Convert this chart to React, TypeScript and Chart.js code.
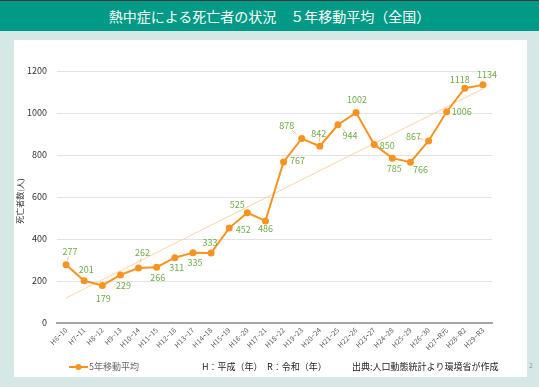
import React, { useEffect, useRef } from "react";
import { Chart, registerables } from "chart.js";

Chart.register(...registerables);

const categories = [
  "H6~10", "H7~11", "H8~12", "H9~13", "H10~14", "H11~15", "H12~16", "H13~17",
  "H14~18", "H15~19", "H16~20", "H17~21", "H18~22", "H19~23", "H20~24", "H21~25",
  "H22~26", "H23~27", "H24~28", "H25~29", "H26~30", "H27~R元", "H28~R2", "H29~R3",
];
const movingAverage = [
  277, 201, 179, 229, 262, 266, 311, 335, 333, 452, 525, 486,
  767, 878, 842, 944, 1002, 850, 785, 766, 867, 1006, 1118, 1134,
];
// trend line end points
const trendStart = 119;
const trendEnd = 1115;
const yTicks = [0, 200, 400, 600, 800, 1000, 1200];

const title = "熱中症による死亡者の状況　５年移動平均（全国）";
const seriesName = "5年移動平均";
const yTitle = "死亡者数(人)";
const noteEra = "H：平成（年）　R：令和（年）";
const noteSource = "出典:人口動態統計より環境省が作成";

// label offsets (dx, dy) relative to each point + leader flag
const labelPlacement: [number, number, boolean][] = [
  [4, -13, true], [2, -11, false], [1, 13, false], [3, 11, false], [4, -15, true], [1, 10, false],
  [2, 10, false], [2, 10, false], [-1, -10, false], [14, 1, false], [-10, -8, false], [0, 8, false],
  [14, -1, false], [-15, -13, true], [-1, -13, true], [12, 11, true], [1, -13, false], [13, 1, false],
  [2, 10, false], [10, 7, false], [-15, -4, true], [15, 0, false], [-5, -9, false], [4, -10, false],
];

const FONT = "'Noto Sans CJK JP', 'Noto Sans', sans-serif";
const ORANGE = "#f7931e";
const GREEN = "#70ad47";

export default function App() {
  const ref = useRef<HTMLCanvasElement | null>(null);

  useEffect(() => {
    document.body.style.margin = "0";
    const canvas = ref.current;
    if (!canvas) return;
    const trend = categories.map((_, i) =>
      i === 0 ? trendStart : i === categories.length - 1 ? trendEnd : null
    );

    const overlay = {
      id: "overlay",
      afterDatasetsDraw(chart: any) {
        const ctx = chart.ctx as CanvasRenderingContext2D;
        const meta = chart.getDatasetMeta(1);
        ctx.save();
        ctx.font = `9px ${FONT}`;
        ctx.textAlign = "center";
        ctx.textBaseline = "middle";
        meta.data.forEach((pt: any, i: number) => {
          const [dx, dy, leader] = labelPlacement[i];
          const lx = pt.x + dx;
          const ly = pt.y + dy;
          if (leader) {
            ctx.strokeStyle = "#f4b4a0";
            ctx.lineWidth = 1;
            ctx.beginPath();
            const sx = pt.x + dx * 0.35;
            const sy = pt.y + dy * 0.35;
            const ex = pt.x + dx * 0.65;
            const ey = pt.y + dy * 0.65;
            ctx.moveTo(sx, sy);
            ctx.lineTo(ex, ey);
            ctx.stroke();
          }
          ctx.fillStyle = GREEN;
          ctx.fillText(String(movingAverage[i]), lx, ly);
        });
        ctx.restore();
      },
      afterDraw(chart: any) {
        const ctx = chart.ctx as CanvasRenderingContext2D;
        const area = chart.chartArea;
        ctx.save();
        // y axis title
        ctx.translate(20, (area.top + area.bottom) / 2 + 4);
        ctx.rotate(-Math.PI / 2);
        ctx.font = `8px ${FONT}`;
        ctx.fillStyle = "#333";
        ctx.textAlign = "center";
        ctx.textBaseline = "middle";
        ctx.fillText(yTitle, 0, 0);
        ctx.restore();

        // legend
        ctx.save();
        const ly = 367;
        ctx.strokeStyle = ORANGE;
        ctx.lineWidth = 2;
        ctx.beginPath();
        ctx.moveTo(69, ly);
        ctx.lineTo(88, ly);
        ctx.stroke();
        ctx.fillStyle = ORANGE;
        ctx.beginPath();
        ctx.arc(78.5, ly, 3, 0, Math.PI * 2);
        ctx.fill();
        ctx.font = `9px ${FONT}`;
        ctx.textBaseline = "middle";
        ctx.textAlign = "left";
        ctx.fillStyle = "#666";
        ctx.fillText(seriesName, 89, ly);
        ctx.fillStyle = "#222";
        ctx.fillText(noteEra, 202, ly);
        ctx.fillText(noteSource, 352, ly);
        ctx.restore();
      },
    };

    const chart = new Chart(canvas, {
      type: "line",
      data: {
        labels: categories,
        datasets: [
          {
            label: "trend",
            data: trend,
            borderColor: "#fdd3a6",
            borderWidth: 1,
            pointRadius: 0,
            spanGaps: true,
            fill: false,
            order: 2,
          },
          {
            label: seriesName,
            data: movingAverage,
            borderColor: ORANGE,
            backgroundColor: ORANGE,
            borderWidth: 2,
            pointRadius: 3.5,
            pointBackgroundColor: ORANGE,
            pointBorderWidth: 0,
            tension: 0,
            fill: false,
            order: 1,
          },
        ],
      },
      options: {
        responsive: false,
        animation: false,
        layout: { padding: { left: 0, right: 47, top: 71, bottom: 0 } },
        plugins: {
          legend: { display: false },
          tooltip: { enabled: false },
          title: { display: false },
        },
        scales: {
          x: {
            offset: true,
            grid: { display: false, drawTicks: false },
            border: { display: true, color: "#a6a6a6", width: 2 },
            ticks: {
              autoSkip: false,
              maxRotation: 45,
              minRotation: 45,
              padding: 3,
              color: "#595959",
              font: { size: 7, family: FONT },
            },
            afterFit: (scale: any) => {
              scale.height = 64;
            },
          },
          y: {
            min: 0,
            max: 1200,
            afterBuildTicks: (scale: any) => {
              scale.ticks = yTicks.map((v) => ({ value: v }));
            },
            grid: { color: "#e3e3e3", lineWidth: 1, drawTicks: false },
            border: { display: false },
            ticks: {
              padding: 10,
              color: "#333",
              font: { size: 9, family: FONT },
              callback: (v: any) => String(v),
            },
            afterFit: (scale: any) => {
              scale.width = 57;
            },
          },
        },
      },
      plugins: [overlay],
    });
    return () => chart.destroy();
  }, []);

  return (
    <div
      style={{
        position: "relative",
        width: 539,
        height: 387,
        background: "#d6e8e6",
        overflow: "hidden",
        fontFamily: FONT,
      }}
    >
      <div style={{ position: "absolute", left: 0, top: 0, width: 539, height: 1, background: "#3c3c3c" }} />
      <div
        style={{
          position: "absolute",
          left: 0,
          top: 1,
          width: 539,
          height: 30,
          background: "#009a86",
          color: "#fff",
          fontSize: 14,
          lineHeight: "30px",
          textAlign: "center",
        }}
      >
        {title}
      </div>
      <div
        style={{
          position: "absolute",
          left: 14,
          top: 40,
          width: 513,
          height: 337,
          background: "#ffffff",
        }}
      />
      <div style={{ position: "absolute", left: 529, top: 360, fontSize: 7, color: "#999" }}>2</div>
      <canvas
        ref={ref}
        width={539}
        height={387}
        style={{ position: "absolute", left: 0, top: 0, width: 539, height: 387 }}
      />
    </div>
  );
}
